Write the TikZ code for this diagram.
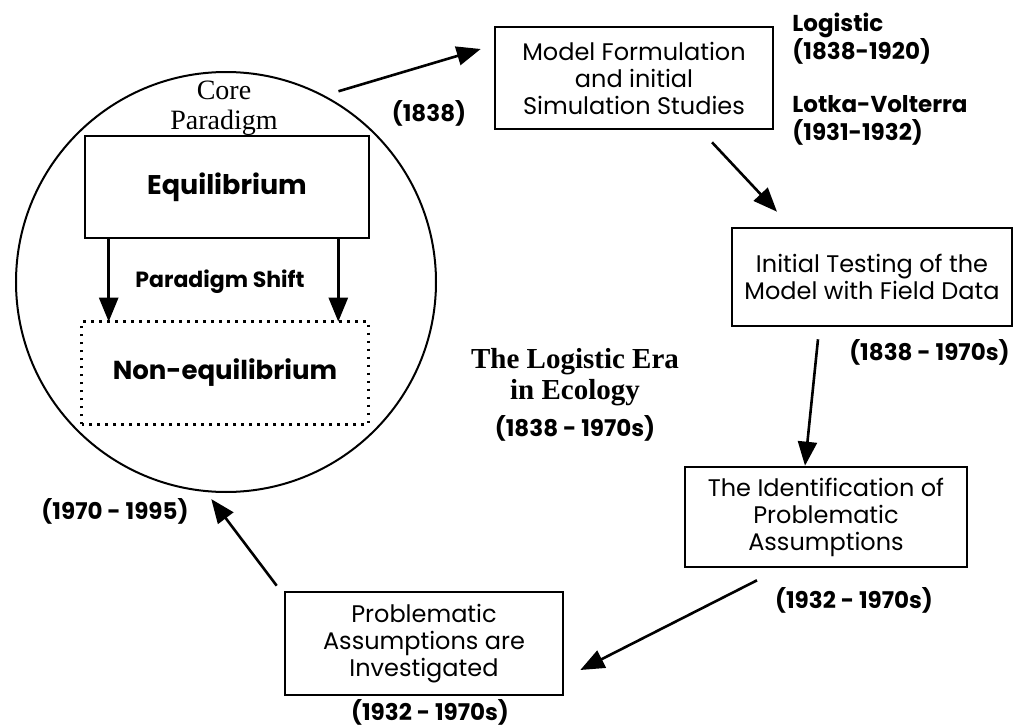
\documentclass[tikz,border=0pt]{standalone}
\usepackage{fontspec}
\setmainfont{Poppins}
\newfontfamily\eraserif{Liberation Serif}
\usetikzlibrary{arrows.meta, positioning, calc}

\begin{document}
\begin{tikzpicture}[
  x=0.5pt, y=-0.5pt,
  box/.style={draw, line width=1.3pt, align=center, minimum width=#1, minimum height=50pt, inner sep=2pt, font=\fontsize{12}{13.5}\selectfont},
  box/.default=140pt,
  arr/.style={-{Triangle[length=12pt,width=9.5pt]}, line width=1.3pt},
  year/.style={font=\fontsize{11.5}{14}\selectfont\bfseries, inner sep=1pt},
]
\useasboundingbox (0,0) rectangle (1014,728);

% Core paradigm circle
\node[circle, draw, line width=1pt, minimum size=210pt, inner sep=0pt] (core) at (226,282) {};
\node[align=center, font=\eraserif\fontsize{14}{15}\selectfont] (corelbl) at (224,108) {Core\\Paradigm};
\node[box=142pt, minimum height=51pt, font=\fontsize{13.5}{16}\selectfont\bfseries] (equil) at (227,187) {Equilibrium};
\node[box=142pt, draw=none, font=\fontsize{13}{16}\selectfont\bfseries] (noneq) at (225,373) {Non-equilibrium};
\draw[line width=1.3pt, dash pattern=on 1.4pt off 2.6pt] (noneq.south west) rectangle (noneq.north east);
\node[font=\fontsize{11}{12}\selectfont\bfseries] (shift) at (220,282) {Paradigm Shift};

% Paradigm shift arrows
\draw[arr] ([xshift=12.5pt]equil.south west) -- ([xshift=13.5pt]noneq.north west);
\draw[arr] ([xshift=-16pt]equil.south east) -- ([xshift=-15pt]noneq.north east);

% The cycle of the logistic era
\node[box=139pt, minimum height=51pt] (model) at (634,78) {Model Formulation\\and initial\\Simulation Studies};
\node[box=140pt, minimum height=49pt] (test) at (872,277) {Initial Testing of the\\Model with Field Data};
\node[box=141pt] (ident) at (826,517) {The Identification of\\Problematic\\Assumptions};
\node[box=139pt, minimum height=51.5pt] (invest) at (424,643.5) {Problematic\\Assumptions are\\Investigated};

% Dates
\node[year] (startyr) at (429,113) {(1838)};
\node[year, align=left, anchor=west] (logis) at (790,39) {Logistic\\(1838-1920)};
\node[year, align=left, anchor=west] (lotka) at (790,120) {Lotka-Volterra\\(1931-1932)};
\node[year, anchor=east] (testyr) at (1012,352) {(1838 - 1970s)};
\node[year] (identyr) at (854,600) {(1932 - 1970s)};
\node[year] (investyr) at (430,712) {(1932 - 1970s)};
\node[year] (shiftyr) at (115,511) {(1970 - 1995)};

% Era caption
\node[align=center, font=\eraserif\bfseries\fontsize{14.5}{15.5}\selectfont] (era) at (575,377) {The Logistic Era\\in Ecology};
\node[year] (erayr) at (575,428) {(1838 - 1970s)};

% Connectors
\draw[arr] ([shift={(3.5pt,4pt)}]core.60) -- ([shift={(-6.5pt,14.5pt)}]model.west);
\draw[arr] ([shift={(39pt,-6pt)}]model.south) -- ([shift={(-47.5pt,7.5pt)}]test.north);
\draw[arr] ([shift={(-27pt,-6pt)}]test.south) -- ([xshift=-10.5pt]ident.north);
\draw[arr] ([shift={(-34.5pt,-6pt)}]ident.south) -- ([shift={(8pt,-13.25pt)}]invest.east);
\draw[arr] ([shift={(-3.5pt,2.5pt)}]invest.north west) -- ([yshift=-3.3pt]core.-94);
\end{tikzpicture}
\end{document}
